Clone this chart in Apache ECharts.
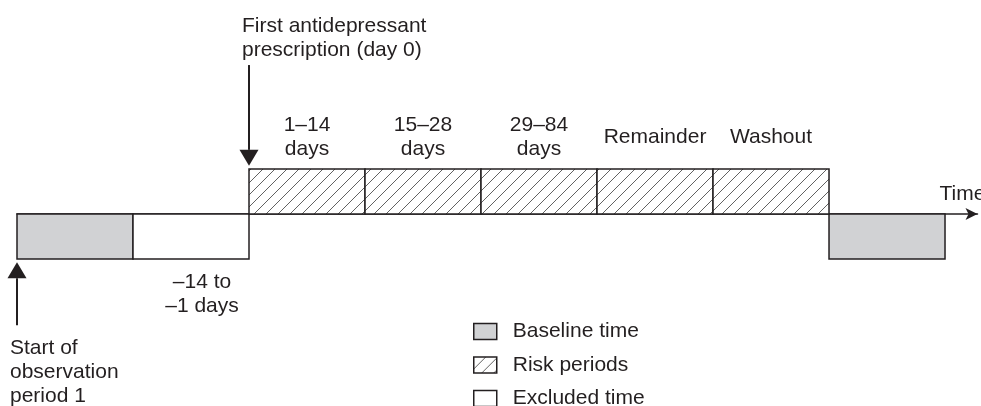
<!DOCTYPE html>
<html>
<head>
<meta charset="utf-8">
<script src="https://cdn.jsdelivr.net/npm/echarts@6/dist/echarts.min.js"></script>
<style>
  html, body { margin: 0; padding: 0; background: #fff; }
  #timeline { width: 981px; height: 406px; }
</style>
</head>
<body>
<div id="timeline"></div>
<script>
// segments on the timeline, in equal-width "period" units
var baselineSegs = [[0, 1], [7, 8]];
var excludedSegs = [[1, 2]];
var riskSegs = [[2, 3], [3, 4], [4, 5], [5, 6], [6, 7]];
var riskLabels = ['1\u201314\ndays', '15\u201328\ndays', '29\u201384\ndays', 'Remainder', 'Washout'];
var excludedLabels = ['\u201314 to\n\u20131 days'];
// vertical bands: risk periods above the time line, the rest below
var bandBelow = [-1, 0];
var bandAbove = [0, 1];
// annotation arrows: x, tail y, tip y, text
var arrowX = [2, 0];
var arrowTail = [3.31, -2.47];
var arrowTip = [1.07, -1.07];
var arrowText = ['First antidepressant\nprescription (day 0)', 'Start of\nobservation\nperiod 1'];

var ink = '#231f20';
var grey = '#d1d2d4';
var font = '"Liberation Sans", Arial, Helvetica, sans-serif';

// hatch pattern for the risk periods
var hatch = document.createElement('canvas');
hatch.width = 12; hatch.height = 12;
(function () {
  var c = hatch.getContext('2d');
  c.fillStyle = '#fff';
  c.fillRect(0, 0, 12, 12);
  c.strokeStyle = '#3a3a3a';
  c.lineWidth = 0.8;
  c.beginPath();
  c.moveTo(-1, 13); c.lineTo(13, -1);
  c.moveTo(-1, 1); c.lineTo(1, -1);
  c.moveTo(11, 13); c.lineTo(13, 11);
  c.stroke();
})();
var hatchFill = { image: hatch, repeat: 'repeat' };

function boxData(segs, band, labels) {
  return segs.map(function (s, i) {
    return [s[0], s[1], band[0], band[1], labels ? labels[i] : ''];
  });
}

function makeRenderer(fill, labelSide) {
  return function (params, api) {
    var lt = api.coord([api.value(0), api.value(3)]);
    var rb = api.coord([api.value(1), api.value(2)]);
    var children = [{
      type: 'rect',
      shape: { x: lt[0], y: lt[1], width: rb[0] - lt[0], height: rb[1] - lt[1] },
      style: { fill: fill, stroke: ink, lineWidth: 1.5 }
    }];
    var txt = api.value(4);
    if (txt) {
      var cx = (lt[0] + rb[0]) / 2;
      var cy = labelSide === 'top' ? lt[1] - 32 : rb[1] + 35;
      if (labelSide !== 'top') cx += 11;
      children.push({
        type: 'text',
        style: {
          text: txt, x: cx, y: cy, align: 'center', verticalAlign: 'middle',
          fill: ink, fontSize: 21, fontFamily: font, lineHeight: 24
        }
      });
    }
    return { type: 'group', children: children };
  };
}

function renderArrow(params, api) {
  var x = api.value(0);
  var tail = api.coord([x, api.value(1)]);
  var tip = api.coord([x, api.value(2)]);
  var down = tip[1] > tail[1];
  var dir = down ? 1 : -1;
  var headLen = 16, headHalf = 9.5;
  var base = tip[1] - dir * headLen;
  var txt = arrowText[params.dataIndex];
  return {
    type: 'group',
    children: [
      { type: 'line', shape: { x1: tail[0], y1: tail[1], x2: tail[0], y2: base },
        style: { stroke: ink, lineWidth: 2 } },
      { type: 'polygon', shape: { points: [[tip[0], tip[1]], [tip[0] - headHalf, base], [tip[0] + headHalf, base]] },
        style: { fill: ink } },
      { type: 'text', style: {
          text: txt, x: tail[0] - 7, y: down ? tail[1] - 3 : tail[1] + 11,
          align: 'left', verticalAlign: down ? 'bottom' : 'top',
          fill: ink, fontSize: 21, fontFamily: font, lineHeight: 24 } }
    ]
  };
}

var chart = echarts.init(document.getElementById('timeline'));
chart.setOption({
  animation: false,
  grid: { left: 17, right: 3.5, top: 169, bottom: 147, outerBoundsMode: 'none', containLabel: false },
  xAxis: {
    type: 'value', min: 0, max: 8.28,
    name: 'Time', nameLocation: 'end', nameGap: -38,
    nameTextStyle: { color: ink, fontSize: 21, fontFamily: font, align: 'left', verticalAlign: 'bottom', padding: [0, 0, 9, 0] },
    axisLine: { show: true, onZero: true, symbol: ['none', 'arrow'], symbolSize: [9, 12], lineStyle: { color: ink, width: 1.5 } },
    axisTick: { show: false }, axisLabel: { show: false }, splitLine: { show: false }
  },
  yAxis: {
    type: 'value', min: -1, max: 1, show: false
  },
  legend: {
    orient: 'vertical', left: 468, top: 316, height: 140, itemWidth: 23, itemHeight: 16, itemGap: 12.5,
    selectedMode: false,
    textStyle: { color: ink, fontSize: 21, fontFamily: font, padding: [0, 0, 0, 11] },
    data: [
      { name: 'Baseline time', icon: 'rect', itemStyle: { color: grey, borderColor: ink, borderWidth: 1.5 } },
      { name: 'Risk periods', icon: 'rect', itemStyle: { color: hatchFill, borderColor: ink, borderWidth: 1.5 } },
      { name: 'Excluded time', icon: 'rect', itemStyle: { color: '#fff', borderColor: ink, borderWidth: 1.5 } }
    ]
  },
  series: [
    { name: 'Baseline time', type: 'custom', renderItem: makeRenderer(grey, 'none'),
      itemStyle: { color: grey }, encode: { x: [0, 1], y: [2, 3] },
      data: boxData(baselineSegs, bandBelow) },
    { name: 'Excluded time', type: 'custom', renderItem: makeRenderer('#fff', 'bottom'),
      itemStyle: { color: '#fff' }, encode: { x: [0, 1], y: [2, 3] },
      data: boxData(excludedSegs, bandBelow, excludedLabels) },
    { name: 'Risk periods', type: 'custom', renderItem: makeRenderer(hatchFill, 'top'),
      itemStyle: { color: hatchFill }, encode: { x: [0, 1], y: [2, 3] },
      data: boxData(riskSegs, bandAbove, riskLabels) },
    { name: 'arrows', type: 'custom', renderItem: renderArrow, encode: { x: 0, y: [1, 2] },
      data: arrowX.map(function (x, i) { return [x, arrowTail[i], arrowTip[i]]; }) }
  ]
});
</script>
</body>
</html>
